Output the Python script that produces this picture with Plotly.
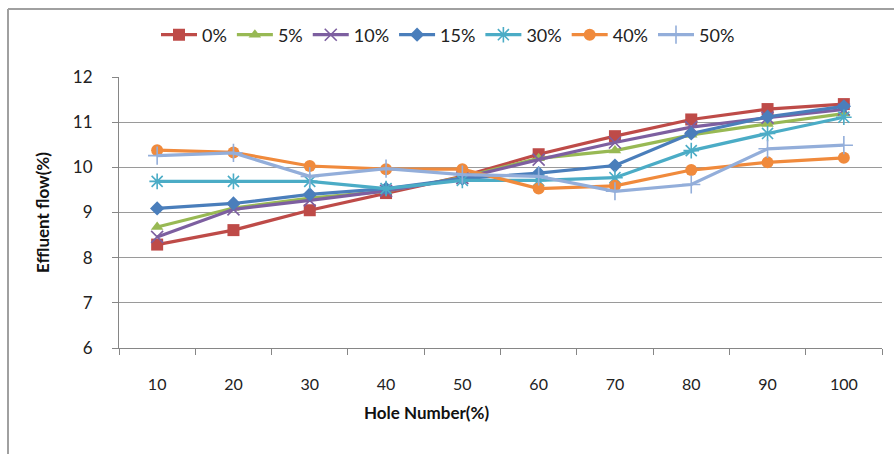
import plotly.graph_objects as go

# Hole number categories (%)
hole_number = ["10", "20", "30", "40", "50", "60", "70", "80", "90", "100"]

# Effluent flow (%) for each opening ratio
flow_0 = [8.29, 8.61, 9.05, 9.43, 9.80, 10.29, 10.69, 11.06, 11.29, 11.40]
flow_5 = [8.68, 9.10, 9.32, 9.47, 9.78, 10.20, 10.37, 10.72, 10.96, 11.19]
flow_10 = [8.46, 9.07, 9.27, 9.48, 9.76, 10.17, 10.55, 10.89, 11.10, 11.28]
flow_15 = [9.09, 9.20, 9.40, 9.53, 9.75, 9.87, 10.04, 10.75, 11.12, 11.35]
flow_30 = [9.69, 9.69, 9.69, 9.53, 9.71, 9.71, 9.77, 10.37, 10.75, 11.11]
flow_40 = [10.38, 10.33, 10.03, 9.96, 9.96, 9.53, 9.59, 9.94, 10.11, 10.21]
flow_50 = [10.26, 10.32, 9.80, 9.97, 9.84, 9.80, 9.47, 9.62, 10.41, 10.49]

series_names = ["0%", "5%", "10%", "15%", "30%", "40%", "50%"]
series_values = [flow_0, flow_5, flow_10, flow_15, flow_30, flow_40, flow_50]
colors = ["#BE4B48", "#98B954", "#7D5FA0", "#4A7EBB", "#4BACC6", "#F08A3C", "#93AEDA"]
symbols = ["square", "triangle-up", "x-thin", "diamond", "asterisk", "circle", "cross-thin"]
sizes = [12, 11, 12, 11, 13, 12, 13]

FONT = "Lato, 'Open Sans', sans-serif"

fig = go.Figure()
for name, vals, col, sym, sz in zip(series_names, series_values, colors, symbols, sizes):
    thin = sym.endswith("thin") or sym == "asterisk"
    fig.add_trace(go.Scatter(
        x=hole_number, y=vals, name=name, mode="lines+markers",
        line=dict(color=col, width=3.2),
        marker=dict(symbol=sym, size=sz, color=col,
                    line=dict(color=col, width=1.6 if thin else 0)),
    ))

W, H = 894, 454
ml, mr, mt, mb = 119, 12, 77, 106
pw, ph = W - ml - mr, H - mt - mb

def px_x(p):
    return (p - ml) / pw

def px_y(p):
    return (H - mb - p) / ph

fig.update_layout(
    width=W, height=H,
    margin=dict(l=ml, r=mr, t=mt, b=mb),
    paper_bgcolor="white", plot_bgcolor="white",
    font=dict(family=FONT, size=16, color="#222222"),
    showlegend=True,
    legend=dict(orientation="h", x=px_x(448), xanchor="center", y=px_y(35), yanchor="middle",
                xref="paper", yref="paper",
                font=dict(family=FONT, size=18, color="#222222"),
                itemwidth=36, tracegroupgap=0, bgcolor="rgba(0,0,0,0)"),
    xaxis=dict(type="category", range=[-0.5, 9.5], tickson="boundaries",
               showgrid=False, showline=True, linecolor="#868686", linewidth=1,
               ticks="outside", ticklen=6, tickcolor="#868686",
               ticklabelstandoff=22,
               tickfont=dict(family=FONT, size=16, color="#222222")),
    yaxis=dict(range=[6, 12], tickvals=[6, 7, 8, 9, 10, 11, 12],
               showgrid=True, gridcolor="#9A9A9A", gridwidth=1,
               showline=True, linecolor="#868686", linewidth=1,
               ticks="outside", ticklen=6, tickcolor="#868686",
               ticklabelstandoff=16, zeroline=False,
               tickfont=dict(family=FONT, size=17, color="#222222"),
               title=dict(text="<b>Effluent flow(%)</b>", standoff=18,
                          font=dict(family=FONT, size=17, color="#111111"))),
    annotations=[
        dict(text="<b>Hole Number(%)</b>", xref="paper", yref="paper",
             x=px_x(426), y=px_y(412), xanchor="center", yanchor="middle",
             showarrow=False, font=dict(family=FONT, size=17, color="#111111")),
    ],
    shapes=[
        # chart frame (top and left edges)
        dict(type="line", xref="paper", yref="paper",
             x0=px_x(8), x1=px_x(W + 5), y0=px_y(9), y1=px_y(9),
             line=dict(color="#A0A0A0", width=2)),
        dict(type="line", xref="paper", yref="paper",
             x0=px_x(8), x1=px_x(8), y0=px_y(9), y1=px_y(H + 5),
             line=dict(color="#A0A0A0", width=2)),
    ],
)

fig.write_html("out.html")
